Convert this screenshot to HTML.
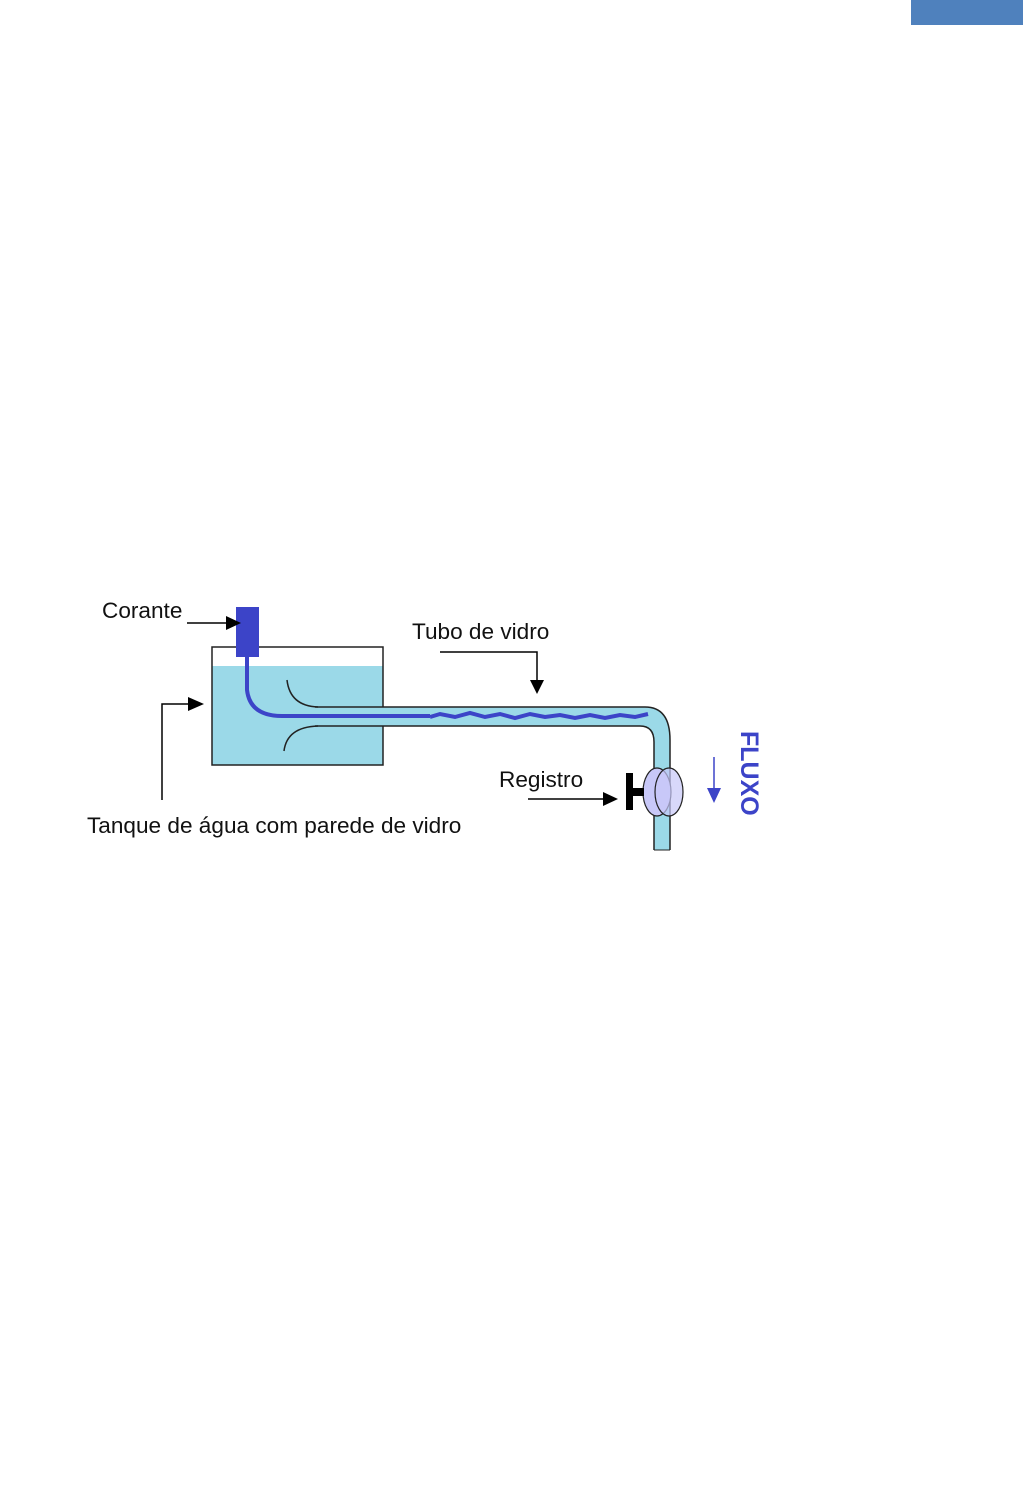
<!DOCTYPE html>
<html><head><meta charset="utf-8"><style>
html,body{margin:0;padding:0;background:#fff;width:1023px;height:1492px;overflow:hidden}
svg{display:block}
text{font-family:"Liberation Sans",Arial,sans-serif}
</style></head><body>
<svg width="1023" height="1492" viewBox="0 0 1023 1492" xmlns="http://www.w3.org/2000/svg">
<rect x="911" y="0" width="112" height="25" fill="#4f81bd"/>
<!-- tank -->
<rect x="212" y="666" width="171" height="99" fill="#9bd9e8"/>
<path d="M383 707 L383 647 L212 647 L212 765 L383 765 L383 726" fill="none" stroke="#222" stroke-width="1.5"/>
<!-- pipe -->
<path d="M383 707 L645 707 Q670 707 670 740 L670 850 L654 850 L654 742 Q654 726 640 726 L383 726 Z" fill="#9bd9e8"/>
<path d="M315 707 L645 707 Q670 707 670 740 L670 850" fill="none" stroke="#222" stroke-width="1.5"/>
<path d="M315 726 L640 726 Q654 726 654 742 L654 850" fill="none" stroke="#222" stroke-width="1.5"/>
<line x1="654" y1="850" x2="670" y2="850" stroke="#222" stroke-width="1"/>
<path d="M287 680 Q290 706 318 707" fill="none" stroke="#222" stroke-width="1.5"/>
<path d="M284 751 Q287 727 318 726" fill="none" stroke="#222" stroke-width="1.5"/>
<!-- dye -->
<rect x="236" y="607" width="23" height="50" fill="#3c44c8"/>
<path d="M247 657 L247 690 Q250 716 282 716 L430 716" fill="none" stroke="#3c44c8" stroke-width="4"/>
<path d="M430 717 L440 714 L455 717 L470 713 L485 717 L500 714 L515 718 L530 714 L545 717 L560 715 L575 718 L590 715 L605 718 L620 715 L635 717 L648 714" fill="none" stroke="#3c44c8" stroke-width="4"/>
<!-- valve -->
<ellipse cx="657" cy="792" rx="14" ry="24" fill="#c8c8f8" stroke="#222" stroke-width="1.2"/>
<ellipse cx="669" cy="792" rx="14" ry="24" fill="#c8c8f8" fill-opacity="0.7" stroke="#222" stroke-width="1.2"/>
<rect x="626" y="773" width="7" height="37" fill="#000"/>
<rect x="632" y="788" width="12" height="8" fill="#000"/>
<!-- arrows -->
<g stroke="#000" stroke-width="1.5" fill="none">
<line x1="187" y1="623" x2="228" y2="623"/>
<polyline points="440,652 537,652 537,682"/>
<polyline points="162,800 162,704 190,704"/>
<line x1="528" y1="799" x2="605" y2="799"/>
</g>
<polygon points="226,616 241,623 226,630" fill="#000"/>
<polygon points="530,680 544,680 537,694" fill="#000"/>
<polygon points="188,697 204,704 188,711" fill="#000"/>
<polygon points="603,792 618,799 603,806" fill="#000"/>
<line x1="714" y1="757" x2="714" y2="790" stroke="#3c44c8" stroke-width="1.5"/>
<polygon points="707,788 721,788 714,803" fill="#3c44c8"/>
<!-- labels -->
<text x="102" y="618" font-size="22.6" fill="#111">Corante</text>
<text x="412" y="639" font-size="22.6" fill="#111">Tubo de vidro</text>
<text x="499" y="787" font-size="22.6" fill="#111">Registro</text>
<text x="87" y="833" font-size="22.6" fill="#111">Tanque de água com parede de vidro</text>
<text transform="translate(741,731) rotate(90)" font-size="25" font-weight="bold" fill="#3c44c8">FLUXO</text>
</svg>
</body></html>
